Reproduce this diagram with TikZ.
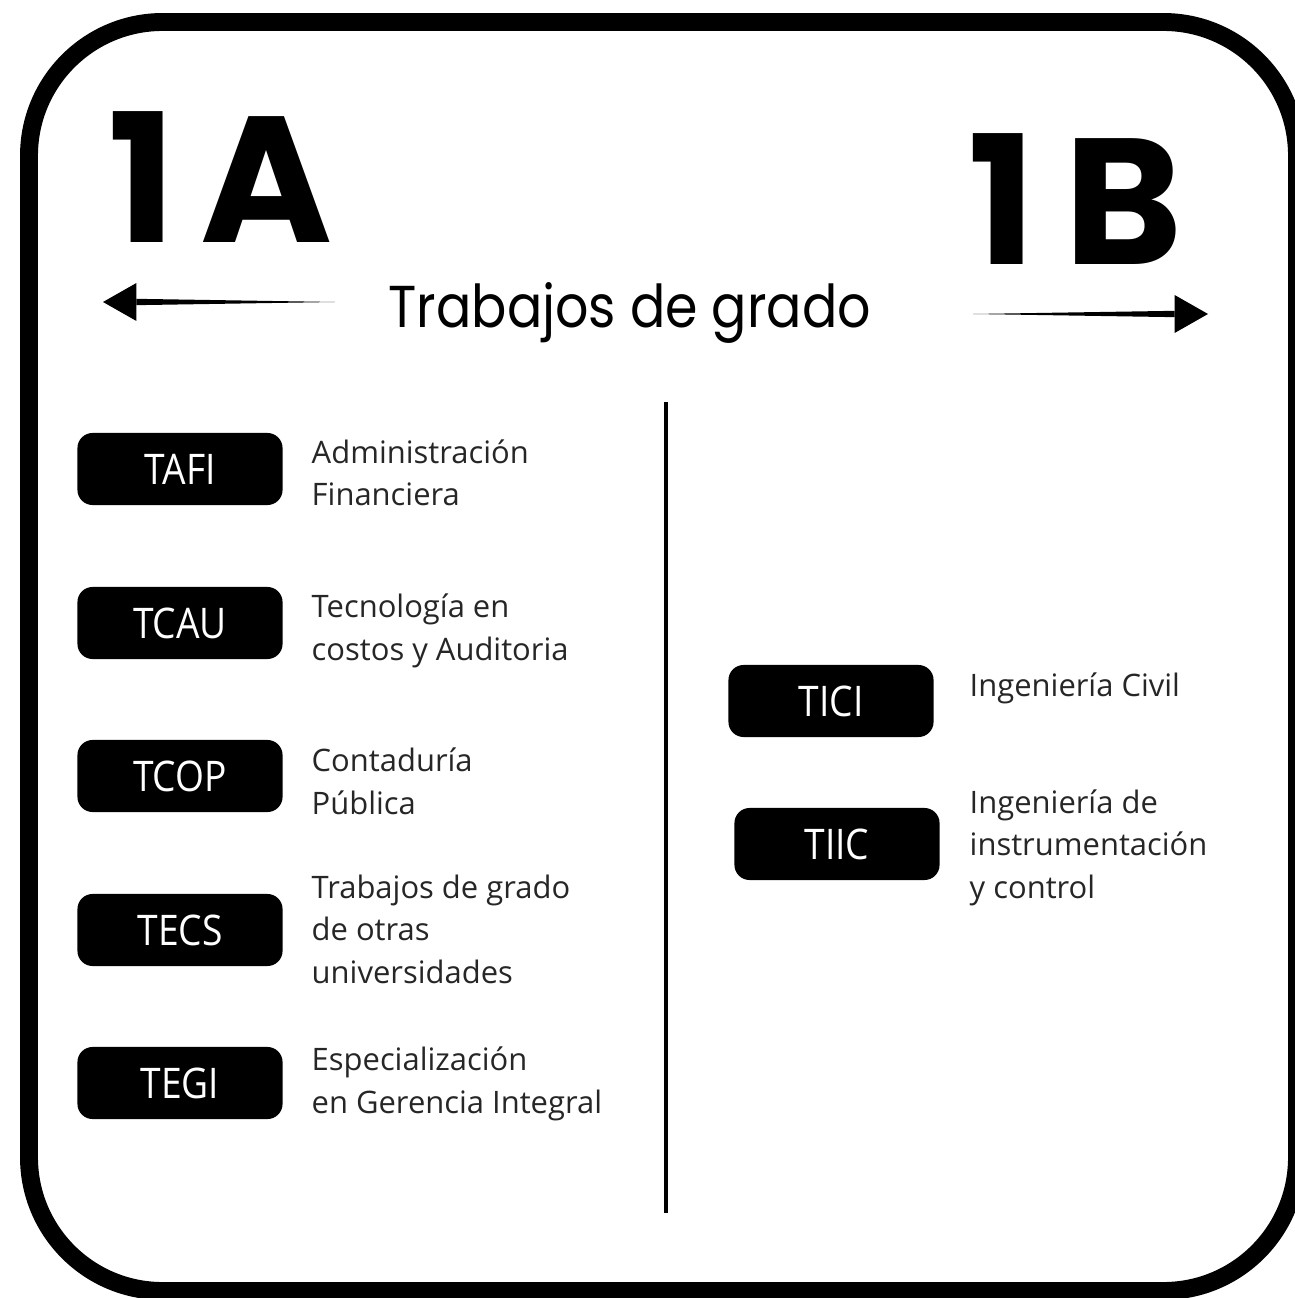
\documentclass[tikz,border=0pt]{standalone}
\usepackage{fontspec}
\setmainfont{Open Sans}
\newfontfamily\popfont{Poppins}
\newfontfamily\titlefont{Poppins}[FakeStretch=0.885]
\newfontfamily\tagfont{Open Sans}[FakeStretch=0.88]
\usepackage{tikz}

\begin{document}
\begin{tikzpicture}[x=0.01cm, y=-0.01cm]
\tikzstyle{badge} = [rectangle, rounded corners=4.3pt, fill=black, text=white, minimum width=2.05cm, minimum height=0.72cm, inner sep=0pt, font=\tagfont\fontsize{12}{14}\selectfont]
\tikzstyle{desc} = [anchor=base west, inner sep=0pt, align=left, text=black!85, font=\fontsize{8.8}{11.95}\selectfont]
\useasboundingbox (0,0) rectangle (1295,1298);
\fill[white] (0,0) rectangle (1295,1298);
\draw[line width=5.1pt, rounded corners=38pt] (29,22) rectangle (1297,1291);

\node[anchor=base west, inner sep=0pt, font=\popfont\bfseries\fontsize{51}{51}\selectfont] (ta) at (108,243) {1\kern7pt A};
\node[anchor=base west, inner sep=0pt, font=\popfont\bfseries\fontsize{51}{51}\selectfont] (tb) at (968,265) {1\kern8pt B};
\node[anchor=base west, inner sep=0pt, font=\titlefont\fontsize{16.8}{20}\selectfont] (title) at (388,328) {Trabajos de grado};

\coordinate (ltail) at (335,302);
\coordinate (ltip) at (103,302);
\coordinate (rtail) at (973,314);
\coordinate (rtip) at (1208,314);
\foreach \tail/\tip/\dir in {ltail/ltip/1, rtail/rtip/-1}
{
\fill (\tail) -- ([xshift=\dir*9.5pt, yshift=0.9pt]\tip) -- ([xshift=\dir*9.5pt, yshift=-0.9pt]\tip) -- cycle;
\fill (\tip) -- ([xshift=\dir*9.5pt, yshift=5.4pt]\tip) -- ([xshift=\dir*9.5pt, yshift=-5.4pt]\tip) -- cycle;
}

\coordinate (vtop) at (666,402);
\coordinate (vbot) at (666,1213);
\draw[line width=0.9pt] (vtop) -- (vbot);

% columna 1A
\node[badge] (tafi) at (180,469) {TAFI};
\node[badge] (tcau) at (180,623) {TCAU};
\node[badge] (tcop) at (180,776) {TCOP};
\node[badge] (tecs) at (180,930) {TECS};
\node[badge] (tegi) at (180,1083) {TEGI};
\node[desc] (dtafi) at (311,506) {Administración\\Financiera};
\node[desc] (dtcau) at (311,660) {Tecnología en\\costos y Auditoria};
\node[desc] (dtcop) at (311,814) {Contaduría\\Pública};
\node[desc] (dtecs) at (311,983) {Trabajos de grado\\de otras\\universidades};
\node[desc] (dtegi) at (311,1113) {Especialización\\en Gerencia Integral};

% columna 1B
\node[badge] (tici) at (831,701) {TICI};
\node[badge] (tiic) at (837,844) {TIIC};
\node[desc] (dtici) at (969,696) {Ingeniería Civil};
\node[desc] (dtiic) at (969,898) {Ingeniería de\\instrumentación\\y control};
\end{tikzpicture}
\end{document}
